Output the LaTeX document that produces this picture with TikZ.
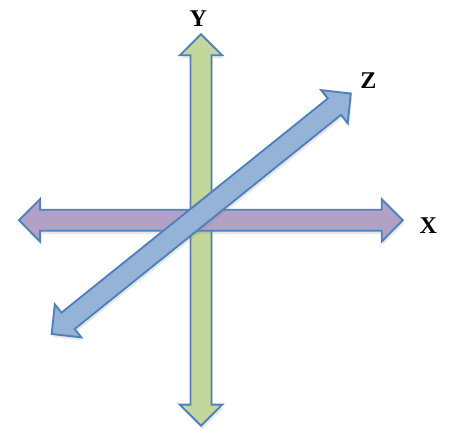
\documentclass[tikz,border=0pt]{standalone}
\usepackage{fontspec}
\setmainfont{Liberation Serif}
\usetikzlibrary{shadows}
\definecolor{ygreen}{RGB}{195,214,155}
\definecolor{xpurple}{RGB}{178,161,199}
\definecolor{zblue}{RGB}{149,179,215}
\definecolor{edgeblue}{RGB}{79,129,189}
\newcommand\DArrow[5]{%
\begin{scope}[shift={(#2,#3)}, rotate=#4]
\draw[arrowbody,#1] (0,0) -- (21,21.2) -- (21,10.5) -- (#5-21,10.5) -- (#5-21,21.2) -- (#5,0)
  -- (#5-21,-21.2) -- (#5-21,-10.5) -- (21,-10.5) -- (21,-21.2) -- cycle;
\end{scope}}
\tikzset{
  arrowbody/.style={draw=edgeblue, line width=1.9pt, line join=miter,
    drop shadow={opacity=0.18, shadow xshift=1.5pt, shadow yshift=-3pt}},
  axislabel/.style={font=\fontsize{24}{24}\selectfont\bfseries, inner sep=0pt}
}
\begin{document}
\begin{tikzpicture}[x=1pt,y=1pt]
\useasboundingbox (0,0) rectangle (449,430);
\DArrow{fill=ygreen}{201}{4.3}{90}{391.4}
\DArrow{fill=xpurple}{19}{209.7}{0}{383.7}
\DArrow{fill=zblue}{51.7}{96}{38.8}{383.8}
\node[axislabel] (ly) at (198.3,411.7) {Y};
\node[axislabel] (lz) at (368.3,349.3) {Z};
\node[axislabel] (lx) at (428.3,204.3) {X};
\end{tikzpicture}
\end{document}
